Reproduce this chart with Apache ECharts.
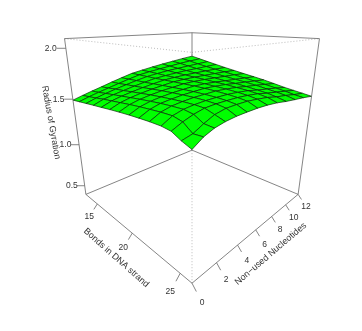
<!DOCTYPE html>
<html>
<head>
<meta charset="utf-8">
<title>Radius of Gyration</title>
<style>
  html, body { margin: 0; padding: 0; background: #fff; }
  #chart { width: 362px; height: 331px; }
</style>
<script src="https://cdn.jsdelivr.net/npm/echarts@6/dist/echarts.min.js"></script>
</head>
<body>
<div id="chart"></div>
<script>
// the mesh in the picture gets tighter near the front corner
const bonds = [13, 14.1, 15.2, 16.3, 17.4, 18.5, 19.6, 20.7, 21.7, 22.7, 23.7, 24.5, 25.25, 26]
const nonUsed = [0, 0.75, 1.5, 2.3, 3.2, 4.1, 5.1, 6.1, 7.2, 8.3, 9.5, 10.7, 12]

// one row per bonds value, one column per non-used value
const row1 = [1.49, 1.52, 1.548, 1.576, 1.609, 1.64, 1.672, 1.692, 1.713, 1.732, 1.75, 1.768, 1.785]
const row2 = [1.501, 1.532, 1.559, 1.585, 1.615, 1.643, 1.672, 1.69, 1.706, 1.721, 1.737, 1.75, 1.762]
const row3 = [1.512, 1.545, 1.572, 1.597, 1.623, 1.648, 1.672, 1.687, 1.701, 1.71, 1.72, 1.729, 1.739]
const row4 = [1.523, 1.56, 1.584, 1.606, 1.63, 1.651, 1.672, 1.683, 1.693, 1.701, 1.705, 1.711, 1.717]
const row5 = [1.533, 1.571, 1.596, 1.617, 1.638, 1.656, 1.674, 1.682, 1.688, 1.691, 1.693, 1.694, 1.695]
const row6 = [1.544, 1.583, 1.608, 1.628, 1.646, 1.661, 1.676, 1.681, 1.683, 1.682, 1.681, 1.679, 1.675]
const row7 = [1.553, 1.595, 1.62, 1.638, 1.654, 1.665, 1.677, 1.68, 1.678, 1.673, 1.668, 1.663, 1.655]
const row8 = [1.561, 1.605, 1.63, 1.646, 1.66, 1.669, 1.678, 1.678, 1.672, 1.663, 1.655, 1.646, 1.636]
const row9 = [1.566, 1.612, 1.638, 1.652, 1.664, 1.671, 1.677, 1.674, 1.667, 1.655, 1.644, 1.631, 1.618]
const row10 = [1.57, 1.618, 1.643, 1.656, 1.666, 1.67, 1.674, 1.669, 1.659, 1.644, 1.63, 1.614, 1.596]
const row11 = [1.57, 1.62, 1.645, 1.657, 1.665, 1.667, 1.667, 1.661, 1.65, 1.63, 1.613, 1.595, 1.573]
const row12 = [1.56, 1.6, 1.63, 1.652, 1.659, 1.66, 1.659, 1.652, 1.639, 1.618, 1.599, 1.58, 1.558]
const row13 = [1.52, 1.54, 1.585, 1.625, 1.645, 1.648, 1.647, 1.637, 1.624, 1.6, 1.584, 1.562, 1.544]
const row14 = [1.49, 1.545, 1.578, 1.596, 1.606, 1.609, 1.61, 1.606, 1.595, 1.577, 1.562, 1.549, 1.53]
const radius = [row1, row2, row3, row4, row5, row6, row7, row8, row9, row10, row11, row12, row13, row14]

const bondTicks = [15, 20, 25]
const nonUsedTicks = [0, 2, 4, 6, 8, 10, 12]
const radiusTicks = [0.5, 1.0, 1.5, 2.0]

const bMin = 13, bMax = 26, nMin = 0, nMax = 12, zMin = 0.388, zMax = 2.089

// perspective camera, fitted to the box corners
const sinPhi = 0.333, cosPhi = 0.943, camDist = 3.645, camScale = 298.5, cx = 192, cy = 123.6

function project(b, n, z) {
  const p = (b - bMin) / (bMax - bMin) * 2 - 1
  const q = (n - nMin) / (nMax - nMin) * 2 - 1
  const c = (z - zMin) / (zMax - zMin) * 2 - 1
  const hor = (p + q) / Math.SQRT2
  const dep = (p - q) / Math.SQRT2
  const Y = c * cosPhi - dep * sinPhi
  const dist = camDist - dep * cosPhi - c * sinPhi
  return [cx + camScale * hor / dist, cy - camScale * Y / dist]
}

const cells = []
for (let i = 0; i < bonds.length - 1; i++) {
  for (let j = nonUsed.length - 2; j >= 0; j--) {
    cells.push([i, j])
  }
}

const L = [bMin, nMin], F = [bMax, nMin], R = [bMax, nMax], B = [bMin, nMax]
const backEdges = [
  [L, zMax, B, zMax], [B, zMax, R, zMax], [B, zMin, B, zMax],
  [L, zMin, B, zMin], [B, zMin, R, zMin]
]
const hiddenEdges = [[L, zMax, F, zMax], [F, zMax, R, zMax], [F, zMin, F, zMax]]
const frontEdges = [[L, zMin, L, zMax], [R, zMin, R, zMax], [L, zMin, F, zMin], [F, zMin, R, zMin]]

const lineColor = '#666'
const textColor = '#333'
const fontFamily = '"Liberation Sans", Arial, sans-serif'

function edgeSeries(edges, style) {
  return {
    type: 'custom', coordinateSystem: 'cartesian2d', silent: true, clip: false,
    data: edges.map((e, i) => [i, 0]),
    renderItem(params, api) {
      const e = edges[params.dataIndex]
      const a = api.coord(project(e[0][0], e[0][1], e[1]))
      const b = api.coord(project(e[2][0], e[2][1], e[3]))
      return { type: 'line', shape: { x1: a[0], y1: a[1], x2: b[0], y2: b[1] }, style: style }
    }
  }
}

const tickFrac = 0.027, labelFrac = 0.062
const zTickFrac = 0.036, zLabelFrac = 0.06
const bRange = bMax - bMin, nRange = nMax - nMin, zRange = zMax - zMin

const ticks = []
bondTicks.forEach(v => ticks.push({ text: String(v), base: [v, nMin, zMin], dir: [0, -nRange, -zRange], t: tickFrac, l: labelFrac }))
nonUsedTicks.forEach(v => ticks.push({ text: String(v), base: [bMax, v, zMin], dir: [bRange, 0, -zRange], t: tickFrac, l: labelFrac }))
radiusTicks.forEach(v => ticks.push({ text: v.toFixed(1), base: [bMin, nMin, v], dir: [-bRange, -nRange, 0], t: zTickFrac, l: zLabelFrac }))

function along(t, f) {
  return project(t.base[0] + t.dir[0] * f, t.base[1] + t.dir[1] * f, t.base[2] + t.dir[2] * f)
}

const titles = [
  { text: 'Radius of Gyration', at: [bMin, nMin, 1.25], dx: -25, dy: 0, rot: -80 },
  { text: 'Bonds in DNA strand', at: [19.5, nMin, zMin], dx: -12, dy: 28, rot: -41.5 },
  { text: 'Non\u2212used Nucleotides', at: [bMax, 6, zMin], dx: 15, dy: 24, rot: 40.5 }
]

const chart = echarts.init(document.getElementById('chart'), null, { renderer: 'canvas' })
chart.setOption({
  animation: false,
  backgroundColor: '#fff',
  grid: { left: 0, right: 0, top: 0, bottom: 0 },
  xAxis: { type: 'value', min: 0, max: 362, show: false },
  yAxis: { type: 'value', min: 0, max: 331, inverse: true, show: false },
  series: [
    edgeSeries(hiddenEdges, { stroke: '#aaa', lineWidth: 0.8, lineDash: [1, 2] }),
    edgeSeries(backEdges, { stroke: lineColor, lineWidth: 0.8 }),
    {
      type: 'custom', coordinateSystem: 'cartesian2d', silent: true, clip: false,
      data: cells,
      renderItem(params, api) {
        const i = api.value(0), j = api.value(1)
        const pts = [[i, j], [i + 1, j], [i + 1, j + 1], [i, j + 1]].map(c =>
          api.coord(project(bonds[c[0]], nonUsed[c[1]], radius[c[0]][c[1]])))
        return {
          type: 'polygon',
          shape: { points: pts },
          style: { fill: '#00ff00', stroke: '#0a2a0a', lineWidth: 0.7 }
        }
      }
    },
    edgeSeries(frontEdges, { stroke: lineColor, lineWidth: 0.8 }),
    {
      type: 'custom', coordinateSystem: 'cartesian2d', silent: true, clip: false,
      data: ticks.map((t, i) => [i, 0]),
      renderItem(params, api) {
        const t = ticks[params.dataIndex]
        const a = api.coord(along(t, 0)), b = api.coord(along(t, t.t)), c = api.coord(along(t, t.l))
        return {
          type: 'group',
          children: [
            { type: 'line', shape: { x1: a[0], y1: a[1], x2: b[0], y2: b[1] }, style: { stroke: lineColor, lineWidth: 0.8 } },
            { type: 'text', x: c[0], y: c[1], style: { text: t.text, fill: textColor, fontSize: 8.5, fontFamily: fontFamily, align: 'center', verticalAlign: 'middle' } }
          ]
        }
      }
    },
    {
      type: 'custom', coordinateSystem: 'cartesian2d', silent: true, clip: false,
      data: titles.map((t, i) => [i, 0]),
      renderItem(params, api) {
        const t = titles[params.dataIndex]
        const a = api.coord(project(t.at[0], t.at[1], t.at[2]))
        return {
          type: 'text', x: a[0] + t.dx, y: a[1] + t.dy, rotation: t.rot * Math.PI / 180,
          style: { text: t.text, fill: textColor, fontSize: 9, fontFamily: fontFamily, align: 'center', verticalAlign: 'middle' }
        }
      }
    }
  ]
})
</script>
</body>
</html>
